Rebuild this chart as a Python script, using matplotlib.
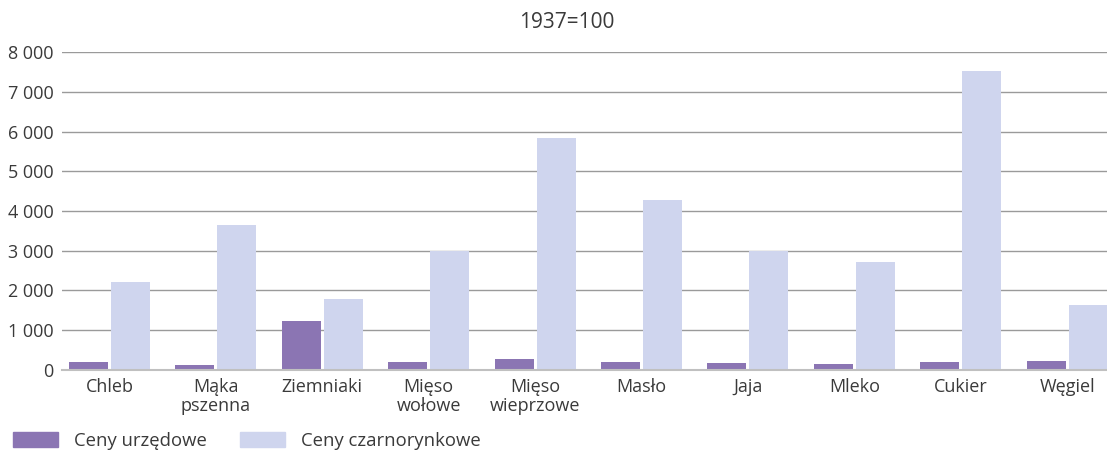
import numpy as np
import matplotlib.pyplot as plt
from matplotlib.ticker import FuncFormatter
from matplotlib.patches import Patch

plt.rcParams['font.family'] = ['Open Sans', 'DejaVu Sans']

categories = ['Chleb', 'Mąka\npszenna', 'Ziemniaki', 'Mięso\nwołowe', 'Mięso\nwieprzowe',
              'Masło', 'Jaja', 'Mleko', 'Cukier', 'Węgiel']
official = [190, 120, 1230, 190, 270, 190, 170, 140, 190, 220]
black_market = [2210, 3650, 1780, 3000, 5840, 4280, 3000, 2710, 7530, 1630]
yticks = [0, 1000, 2000, 3000, 4000, 5000, 6000, 7000, 8000]

c_official = '#8b75b3'
c_black = '#cfd5ee'
text_color = '#3a3a3a'

fig = plt.figure(figsize=(11.07, 4.53), dpi=100)
ax = fig.add_axes([62 / 1107, 1 - 369.7 / 453, 1 - 62 / 1107, (369.7 - 52.3) / 453])

x = np.arange(len(categories))
w = 0.367
ax.bar(x - 0.197, official, width=w, color=c_official, zorder=3)
ax.bar(x + 0.197, black_market, width=w, color=c_black, zorder=3)

ax.set_xlim(-0.446, 9.375)
ax.set_ylim(0, 8000)
ax.set_yticks(yticks)
ax.yaxis.set_major_formatter(FuncFormatter(lambda v, p: f'{int(v):,}'.replace(',', ' ')))
ax.set_xticks(x)
ax.set_xticklabels(categories, linespacing=1.1)

ax.grid(axis='y', color='#9a9a9a', linewidth=1.0, zorder=0)
for s in ['top', 'right', 'left']:
    ax.spines[s].set_visible(False)
ax.spines['bottom'].set_color('#c0c0c0')
ax.spines['bottom'].set_linewidth(1.5)
ax.spines['bottom'].set_zorder(4)
ax.tick_params(axis='both', length=0, labelsize=13, labelcolor=text_color)
ax.tick_params(axis='x', pad=6)
ax.tick_params(axis='y', pad=6)

fig.text(567 / 1107, 1 - 22 / 453, '1937=100', ha='center', va='center',
         fontsize=15, color=text_color)

handles = [Patch(color=c_official, label='Ceny urzędowe'),
           Patch(color=c_black, label='Ceny czarnorynkowe')]
fig.legend(handles=handles, loc='center left', bbox_to_anchor=(-4 / 1107, 1 - 441 / 453),
           ncol=2, frameon=False, fontsize=13.3, labelcolor=text_color,
           handlelength=2.45, handleheight=0.85, handletextpad=0.85, columnspacing=1.8)

fig.savefig('out.png', dpi=100)
